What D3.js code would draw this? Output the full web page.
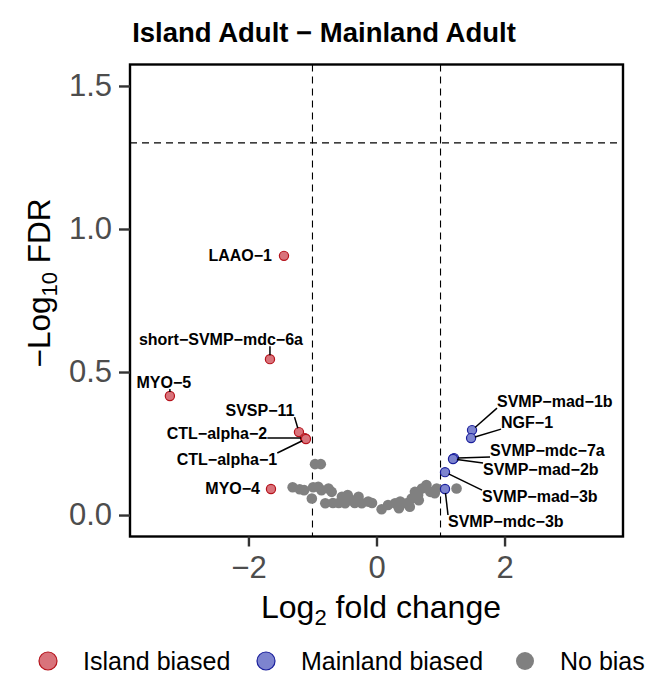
<!DOCTYPE html>
<html>
<head>
<meta charset="utf-8">
<script src="https://cdn.jsdelivr.net/npm/d3@7"></script>
<style>
  body { margin: 0; background: #fff; }
  svg { display: block; font-family: "Liberation Sans", Arial, sans-serif; }
</style>
</head>
<body>
<div id="chart"></div>
<script>
// Significant genes (labelled)
const sigGenes = ["LAAO-1", "short-SVMP-mdc-6a", "MYO-5", "SVSP-11", "CTL-alpha-2", "CTL-alpha-1", "MYO-4",
  "SVMP-mad-1b", "NGF-1", "SVMP-mdc-7a", "SVMP-mad-2b", "SVMP-mad-3b", "SVMP-mdc-3b"]
const sigLfc = [-1.445, -1.664, -3.227, -1.211, -1.117, -1.102, -1.648,
  1.492, 1.477, 1.211, 1.195, 1.07, 1.07]
const sigLogFdr = [0.906, 0.545, 0.416, 0.290, 0.269, 0.266, 0.091,
  0.297, 0.269, 0.199, 0.196, 0.150, 0.091]
const sigGroup = ["Island biased", "Island biased", "Island biased", "Island biased", "Island biased", "Island biased", "Island biased",
  "Mainland biased", "Mainland biased", "Mainland biased", "Mainland biased", "Mainland biased", "Mainland biased"]

// Genes without bias
const nsLfc = [-0.96, -0.87, -1.31, -1.20, -1.13, -0.99, -1.01, -0.91, -0.86, -0.75, -0.70, -0.80, -0.68, -0.59,
  -0.54, -0.49, -0.45, -0.39, -0.34, -0.28, -0.23, -0.13, -0.07, 0.08, 0.18, 0.29, 0.37, 0.47, 0.55, 0.52,
  0.60, 0.65, 0.71, 0.78, 0.84, 0.91, 0.94, 1.25, 0.35, 0.66]
const nsLogFdr = [0.178, 0.178, 0.097, 0.090, 0.087, 0.097, 0.058, 0.099, 0.087, 0.093, 0.081, 0.041, 0.042, 0.042,
  0.064, 0.041, 0.070, 0.052, 0.042, 0.064, 0.041, 0.047, 0.042, 0.020, 0.035, 0.041, 0.047, 0.041, 0.058, 0.029,
  0.081, 0.070, 0.093, 0.105, 0.081, 0.076, 0.093, 0.093, 0.024, 0.052]

const xTicks = [-2, 0, 2]
const yTicks = [0, 0.5, 1.0, 1.5]
const groups = ["Island biased", "Mainland biased", "No bias"]

// label placement: pixel offset from point, text anchor, draw segment
const labelPos = {
  "LAAO-1": [-12, 5, "end", false],
  "short-SVMP-mdc-6a": [-49, -14, "middle", true],
  "MYO-5": [-6, -8, "middle", true],
  "SVSP-11": [-39, -16, "middle", true],
  "CTL-alpha-2": [-88, 1, "middle", true],
  "CTL-alpha-1": [-79, 26, "middle", true],
  "MYO-4": [-11, 5, "end", false],
  "SVMP-mad-1b": [25, -23, "start", true],
  "NGF-1": [30, -10, "start", true],
  "SVMP-mdc-7a": [36, -2, "start", true],
  "SVMP-mad-2b": [30, 16, "start", true],
  "SVMP-mad-3b": [37, 30, "start", true],
  "SVMP-mdc-3b": [3, 38, "start", true]
}

const fills = { "Island biased": "#d9737b", "Mainland biased": "#7d84cf", "No bias": "#808080" }
const strokes = { "Island biased": "#b5121b", "Mainland biased": "#1a1f9c", "No bias": "#808080" }

const width = 646, height = 675
const panel = { left: 130, right: 623, top: 64.5, bottom: 536.5 }

const x = d3.scaleLinear().domain([-3.85, 3.85]).range([panel.left, panel.right])
const y = d3.scaleLinear().domain([-0.075, 1.575]).range([panel.bottom, panel.top])

const svg = d3.select("#chart").append("svg")
  .attr("width", width)
  .attr("height", height)

// title
svg.append("text")
  .attr("x", 324).attr("y", 42)
  .attr("text-anchor", "middle")
  .attr("font-size", "27.5px")
  .attr("font-weight", "700")
  .text("Island Adult \u2212 Mainland Adult")

// reference lines
const dash = "7,5"
svg.selectAll("line.vref")
  .data([-1, 1])
  .join("line")
  .attr("x1", d => x(d)).attr("x2", d => x(d))
  .attr("y1", panel.top).attr("y2", panel.bottom)
  .attr("stroke", "#000").attr("stroke-width", 1.1).attr("stroke-dasharray", dash)

svg.append("line")
  .attr("x1", panel.left).attr("x2", panel.right)
  .attr("y1", y(-Math.log10(0.05))).attr("y2", y(-Math.log10(0.05)))
  .attr("stroke", "#000").attr("stroke-width", 1.1).attr("stroke-dasharray", dash)

// grey points
const ns = nsLfc.map((v, i) => ({ lfc: v, fdr: nsLogFdr[i] }))
svg.append("g").selectAll("circle")
  .data(ns)
  .join("circle")
  .attr("cx", d => x(d.lfc))
  .attr("cy", d => y(d.fdr))
  .attr("r", 5.3)
  .attr("fill", fills["No bias"])

// significant points
const sig = sigGenes.map((g, i) => ({ gene: g, lfc: sigLfc[i], fdr: sigLogFdr[i], group: sigGroup[i] }))
svg.append("g").selectAll("circle")
  .data(sig)
  .join("circle")
  .attr("cx", d => x(d.lfc))
  .attr("cy", d => y(d.fdr))
  .attr("r", 4.6)
  .attr("fill", d => fills[d.group])
  .attr("stroke", d => strokes[d.group])
  .attr("stroke-width", 1.2)

// labels with segments
const labelG = svg.append("g")
sig.forEach(d => {
  const [dx, dy, anchor, seg] = labelPos[d.gene]
  const px = x(d.lfc), py = y(d.fdr)
  const t = labelG.append("text")
    .attr("x", px + dx).attr("y", py + dy)
    .attr("text-anchor", anchor)
    .attr("font-size", "16px")
    .attr("font-weight", "700")
    .text(d.gene.replace(/-/g, "\u2212"))
  if (!seg) return
  const b = t.node().getBBox()
  const cx = Math.max(b.x, Math.min(px, b.x + b.width))
  const cy = Math.max(b.y + 2, Math.min(py, b.y + b.height - 2))
  const dist = Math.hypot(px - cx, py - cy)
  const k = Math.max(0, (dist - 4) / dist)
  labelG.insert("line", "text")
    .attr("x1", cx).attr("y1", cy)
    .attr("x2", cx + (px - cx) * k).attr("y2", cy + (py - cy) * k)
    .attr("stroke", "#000").attr("stroke-width", 1.5)
})

// panel border
svg.append("rect")
  .attr("x", panel.left).attr("y", panel.top)
  .attr("width", panel.right - panel.left).attr("height", panel.bottom - panel.top)
  .attr("fill", "none").attr("stroke", "#000").attr("stroke-width", 2.4)

// axes
const xAxis = svg.append("g")
  .attr("transform", `translate(0,${panel.bottom})`)
  .call(d3.axisBottom(x).tickValues(xTicks).tickSize(10).tickPadding(9)
    .tickFormat(d => d < 0 ? "\u2212" + Math.abs(d) : d))
const yAxis = svg.append("g")
  .attr("transform", `translate(${panel.left},0)`)
  .call(d3.axisLeft(y).tickValues(yTicks).tickSize(11).tickPadding(7).tickFormat(d3.format(".1f")))

;[xAxis, yAxis].forEach(a => {
  a.select(".domain").remove()
  a.selectAll(".tick line").attr("stroke", "#333").attr("stroke-width", 2.4)
  a.selectAll(".tick text").attr("fill", "#4d4d4d").attr("font-size", "31px")
    .attr("font-family", "Liberation Sans, Arial, sans-serif")
})

// axis titles
const xt = svg.append("text")
  .attr("x", 381).attr("y", 618)
  .attr("text-anchor", "middle")
  .attr("font-size", "32px")
xt.append("tspan").text("Log")
xt.append("tspan").attr("font-size", "22px").attr("dy", 7).text("2")
xt.append("tspan").attr("dy", -7).text(" fold change")

const yt = svg.append("text")
  .attr("transform", "translate(50,283) rotate(-90)")
  .attr("text-anchor", "middle")
  .attr("font-size", "31.5px")
yt.append("tspan").text("\u2212Log")
yt.append("tspan").attr("font-size", "22px").attr("dy", 7).text("10")
yt.append("tspan").attr("dy", -7).text(" FDR")

// legend
const legendX = [48, 266, 525]
const legend = svg.append("g").attr("transform", "translate(0,661)")
groups.forEach((g, i) => {
  legend.append("circle")
    .attr("cx", legendX[i]).attr("cy", 0).attr("r", 9)
    .attr("fill", fills[g])
    .attr("stroke", g === "No bias" ? "none" : strokes[g])
    .attr("stroke-width", 1.2)
  legend.append("text")
    .attr("x", legendX[i] + 35).attr("y", 9)
    .attr("font-size", "25px")
    .text(g)
})
</script>
</body>
</html>
